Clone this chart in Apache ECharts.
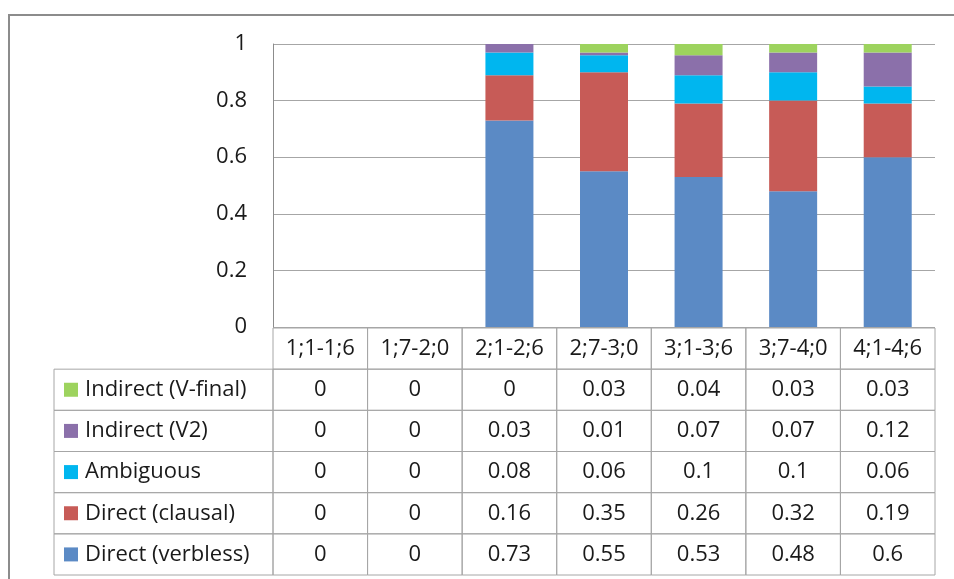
<!DOCTYPE html>
<html>
<head>
<meta charset="utf-8">
<script src="https://cdn.jsdelivr.net/npm/echarts@6/dist/echarts.min.js"></script>
<style>
html,body{margin:0;padding:0;background:#fff;}
#c{width:954px;height:579px;}
</style>
</head>
<body>
<div id="c"></div>
<script>
var categories = ['1;1-1;6','1;7-2;0','2;1-2;6','2;7-3;0','3;1-3;6','3;7-4;0','4;1-4;6'];
var directVerbless = [0, 0, 0.73, 0.55, 0.53, 0.48, 0.6];
var directClausal  = [0, 0, 0.16, 0.35, 0.26, 0.32, 0.19];
var ambiguous      = [0, 0, 0.08, 0.06, 0.1, 0.1, 0.06];
var indirectV2     = [0, 0, 0.03, 0.01, 0.07, 0.07, 0.12];
var indirectVfinal = [0, 0, 0, 0.03, 0.04, 0.03, 0.03];
var yTicks = [0, 0.2, 0.4, 0.6, 0.8, 1];

var seriesDefs = [
  {name:'Direct (verbless)', data: directVerbless, color:'#5B8AC5'},
  {name:'Direct (clausal)',  data: directClausal,  color:'#C75B57'},
  {name:'Ambiguous',         data: ambiguous,      color:'#00B6EF'},
  {name:'Indirect (V2)',     data: indirectV2,     color:'#8B70AA'},
  {name:'Indirect (V-final)',data: indirectVfinal, color:'#9DD35E'}
];
// table rows top-to-bottom
var tableRows = seriesDefs.slice().reverse();
var rowNames = ['__header'].concat(tableRows.map(function(s){return s.name;}));

var FONT = '"Open Sans", sans-serif';
var FS = 22;
var TXT = '#1a1a1a';
var LINE = '#a6a6a6';

var cellData = [];
categories.forEach(function(cat, c){ cellData.push([c, 0, cat]); });
tableRows.forEach(function(s, r){
  s.data.forEach(function(v, c){ cellData.push([c, r+1, String(v)]); });
});
var labelData = tableRows.map(function(s, r){ return [0, r+1, s.name, s.color]; });

var chart = echarts.init(document.getElementById('c'));
var barSeries = seriesDefs.map(function(s){
  return {
    name: s.name, type:'bar', stack:'total', xAxisIndex:0, yAxisIndex:0,
    data: s.data, barWidth: 48, itemStyle:{color:s.color}
  };
});

chart.setOption({
  animation:false,
  backgroundColor:'#fff',
  graphic:[{type:'rect', shape:{x:9, y:15, width:980, height:620},
    style:{fill:'none', stroke:'#8c8c8c', lineWidth:2}, silent:true}],
  grid:[
    {left:273, top:44, width:662, height:283},
    {left:273, top:328, width:662, height:247}
  ],
  xAxis:[
    {type:'category', gridIndex:0, data:categories, axisLabel:{show:false},
     axisLine:{show:false}, axisTick:{show:false}},
    {type:'category', gridIndex:1, data:categories, show:false}
  ],
  yAxis:[
    {type:'value', gridIndex:0, min:0, max:1, interval:0.2,
     axisLine:{show:true, lineStyle:{color:'#8c8c8c', width:1}},
     axisTick:{show:false},
     splitLine:{lineStyle:{color:LINE, width:1}},
     axisLabel:{margin:26, fontSize:FS, fontFamily:FONT, color:TXT,
       formatter:function(v){ return String(Math.round(v*10)/10); }}},
    {type:'category', gridIndex:1, data:rowNames, inverse:true, show:false}
  ],
  series: barSeries.concat([
    {
      type:'custom', xAxisIndex:1, yAxisIndex:1, clip:false, silent:true,
      data: cellData,
      renderItem:function(params, api){
        var p = api.coord([api.value(0), api.value(1)]);
        var sz = api.size([1,1]);
        var t = cellData[params.dataIndex][2];
        return {type:'group', children:[
          {type:'rect', shape:{x:p[0]-sz[0]/2, y:p[1]-sz[1]/2, width:sz[0], height:sz[1]},
           style:{fill:'none', stroke:LINE, lineWidth:1}},
          {type:'text', style:{text:t, x:p[0], y:p[1], align:'center', verticalAlign:'middle',
            fontSize:FS, fontFamily:FONT, fill:TXT}}
        ]};
      }
    },
    {
      type:'custom', xAxisIndex:1, yAxisIndex:1, clip:false, silent:true,
      data: labelData,
      renderItem:function(params, api){
        var p = api.coord([0, api.value(1)]);
        var sz = api.size([1,1]);
        var left = params.coordSys.x - 219;
        var d = labelData[params.dataIndex];
        return {type:'group', children:[
          {type:'rect', shape:{x:left, y:p[1]-sz[1]/2, width:219, height:sz[1]},
           style:{fill:'none', stroke:LINE, lineWidth:1}},
          {type:'rect', shape:{x:left+10, y:p[1]-7, width:14, height:14},
           style:{fill:d[3]}},
          {type:'text', style:{text:d[2], x:left+31, y:p[1], align:'left', verticalAlign:'middle',
            fontSize:FS, fontFamily:FONT, fill:TXT}}
        ]};
      }
    }
  ])
});
</script>
</body>
</html>
